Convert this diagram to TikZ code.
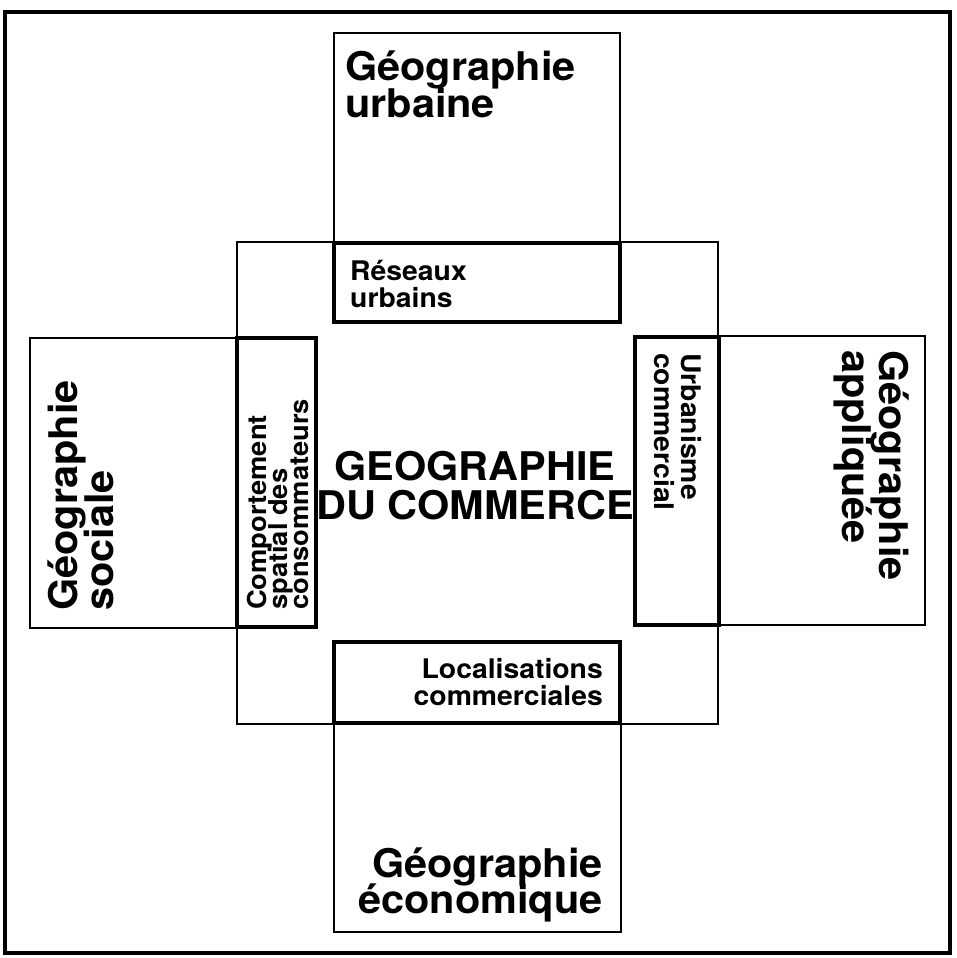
\documentclass[tikz,border=0pt]{standalone}
\usepackage{fontspec}
\setmainfont{TeX Gyre Heros}[FakeStretch=1.05]

% multi-line stacks whose baseline is the first line's baseline
\newcommand\stackL[2]{\vtop{\baselineskip=#1\lineskiplimit=-100pt\relax\halign{##\hfil\cr#2\crcr}}}
\newcommand\stackR[2]{\vtop{\baselineskip=#1\lineskiplimit=-100pt\relax\halign{\hfil##\cr#2\crcr}}}
\newcommand\stackC[2]{\vtop{\baselineskip=#1\lineskiplimit=-100pt\relax\halign{\hfil##\hfil\cr#2\crcr}}}

\tikzset{
  outerframe/.style={line width=4.5pt},
  thinbox/.style={line width=1.5pt},
  thickbox/.style={line width=3.2pt},
  bigtxt/.style={font=\bfseries\fontsize{39.5}{39.5}\selectfont, inner sep=0pt},
  smalltxt/.style={font=\bfseries\fontsize{27}{27}\selectfont, inner sep=0pt},
  sidetxt/.style={font=\bfseries\fontsize{26}{26}\selectfont, inner sep=0pt},
}

\begin{document}
\begin{tikzpicture}[x=1pt,y=-1pt]
\useasboundingbox (0,0) rectangle (956,958);

% outer frame
\draw[outerframe] (5,12) rectangle (950,953);

% thin boxes: central field and the four neighbouring disciplines
\draw[thinbox] (237,242) rectangle (718,724);
\draw[thinbox] (334,33) rectangle (620,243);
\draw[thinbox] (334,724) rectangle (621,932);
\draw[thinbox] (30,338) rectangle (237,628);
\draw[thinbox] (719,336) rectangle (925,625);

% thick boxes: overlapping themes
\draw[thickbox] (334,243) rectangle (620,322);
\draw[thickbox] (334,642) rectangle (620,723);
\draw[thickbox] (237,338) rectangle (316,627);
\draw[thickbox] (635,337) rectangle (719,625);

% labels
\node[bigtxt, anchor=base west] (urb) at (345,81) {\stackL{36pt}{Géographie\cr urbaine}};
\node[smalltxt, anchor=base west] (res) at (350,280) {\stackL{27pt}{Réseaux\cr urbains}};
\node[bigtxt, anchor=base] (gdc) at (475,480) {\stackC{39pt}{GEOGRAPHIE\cr DU COMMERCE}};
\node[smalltxt, anchor=base east] (loc) at (603,678) {\stackR{27pt}{Localisations\cr commerciales}};
\node[bigtxt, anchor=base east] (eco) at (603,877) {\stackR{36.5pt}{Géographie\cr économique}};
\node[bigtxt, rotate=90, anchor=base west] (soc) at (77,611) {\stackL{36pt}{Géographie\cr sociale}};
\node[bigtxt, rotate=-90, anchor=base west] (app) at (879,350) {\stackL{37pt}{Géographie\cr appliquée}};
\node[sidetxt, rotate=90, anchor=base west] (comp) at (266,610) {\stackL{21pt}{Comportement\cr spatial des\cr consommateurs}};
\node[smalltxt, rotate=-90, anchor=base west] (urbcom) at (681,353) {\stackL{27pt}{Urbanisme\cr commercial}};
\end{tikzpicture}
\end{document}
